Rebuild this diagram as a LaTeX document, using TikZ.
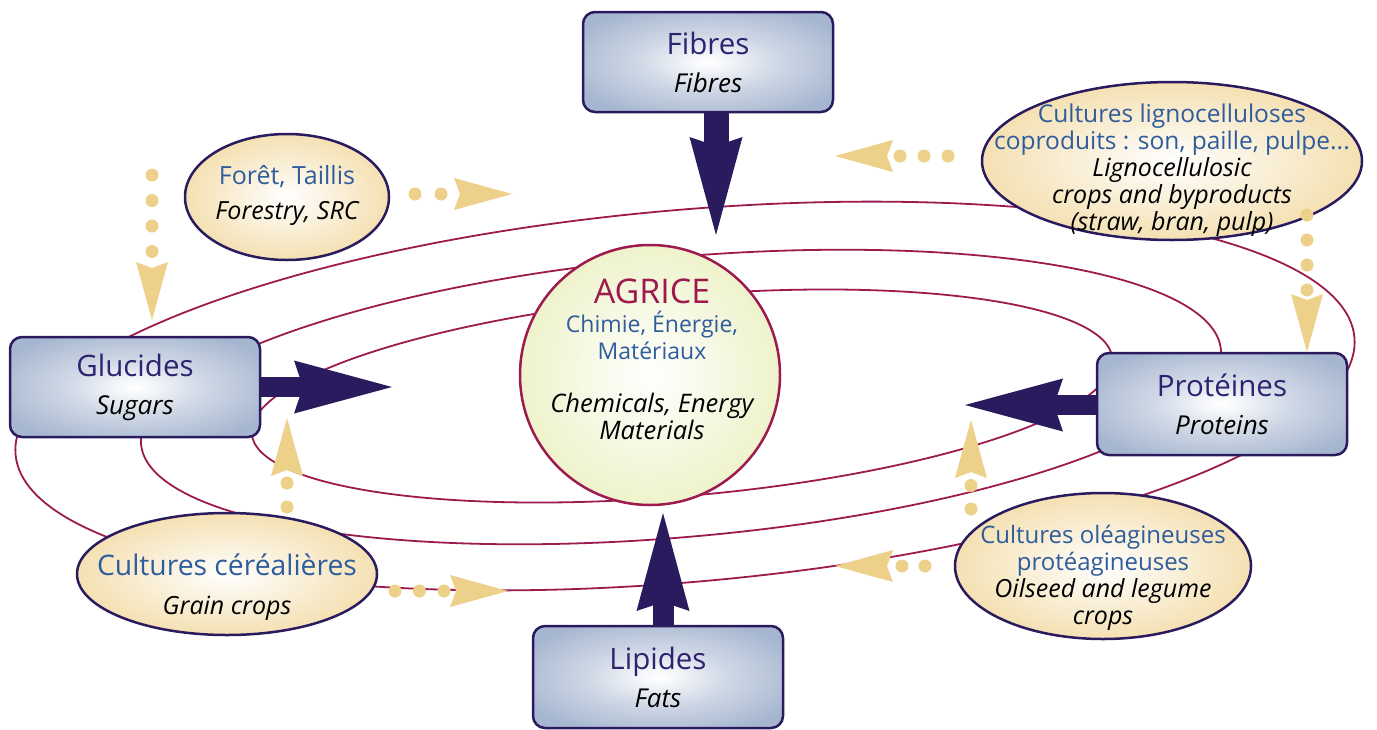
\documentclass[tikz,border=0pt]{standalone}
\usepackage{fontspec}
\setmainfont{Open Sans}
\usetikzlibrary{shapes.geometric,arrows.meta}
\definecolor{boxblue}{HTML}{9FB0CC}
\definecolor{navy}{HTML}{2A1A5E}
\definecolor{titlenavy}{HTML}{2E2370}
\definecolor{gold}{HTML}{EDCB7E}
\definecolor{dotgold}{HTML}{EDD08A}
\definecolor{txtblue}{HTML}{2F5C9C}
\definecolor{crimson}{HTML}{9C1A4E}
\definecolor{circgreen}{HTML}{E3EBA8}
\colorlet{boxedge}{boxblue!93!white}
\pgfdeclareradialshading{boxglow}{\pgfpoint{0bp}{0bp}}{color(0bp)=(white);color(4bp)=(white!88!boxblue);color(14bp)=(white!50!boxblue);color(30bp)=(boxedge);color(80bp)=(boxedge)}
\pgfdeclareradialshading{goldglow}{\pgfpoint{0bp}{0bp}}{color(0bp)=(white);color(42bp)=(gold);color(80bp)=(gold)}
\pgfdeclareradialshading{circglow}{\pgfpoint{0bp}{0bp}}{color(0bp)=(white);color(42bp)=(circgreen);color(80bp)=(circgreen)}
\tikzset{
  orbit/.style={draw=crimson, line width=1.8pt},
  box/.style={draw=navy, line width=2.5pt, rounded corners=12pt, minimum width=250pt,
    minimum height=100pt, shading=boxglow, align=center, text=titlenavy, inner sep=0pt,
    font=\fontsize{29.5}{38}\selectfont},
  oval/.style={ellipse, draw=navy, line width=2.5pt, shading=goldglow, inner sep=0pt},
  ovaltext/.style={align=center, text=txtblue, font=\fontsize{24}{27}\selectfont},
  bigarrow/.style={draw=navy, line width=#1, -{Stealth[length=98pt, width=53pt, inset=9pt, line width=0pt]}},
  dotarrow/.style={draw=dotgold, line width=13pt, line cap=round, dash pattern=on 0pt off #1,
    -{Stealth[length=58pt, width=32pt, inset=6pt, line width=0pt]}},
}
\newcommand{\sub}[1]{{\fontsize{26}{38}\selectfont\itshape\color{black}#1}}
\newcommand{\itl}[1]{{\fontsize{25}{27}\selectfont\itshape\color{black}#1}}
\begin{document}
\begin{tikzpicture}[x=1pt,y=-1pt]
\useasboundingbox (0,0) rectangle (1377,729);
% orbits
\draw[orbit, rotate around={5:(685,396)}] (685,396) ellipse [x radius=672, y radius=186];
\draw[orbit, rotate around={5:(681,397)}] (681,397) ellipse [x radius=542, y radius=140];
\draw[orbit, rotate around={5:(682,396)}] (682,396) ellipse [x radius=432, y radius=100];
% named points
\coordinate (fibtip) at (716,235);
\coordinate (glutip) at (392,387);
\coordinate (protip) at (965,405);
\coordinate (liptip) at (663,513);
% big arrows
\coordinate (fibstart) at (716,100);
\coordinate (glustart) at (250,387);
\coordinate (prostart) at (1107,405);
\coordinate (lipstart) at (663,637);
\draw[bigarrow=25pt] (fibstart) -- (fibtip);
\draw[bigarrow=20pt] (glustart) -- (glutip);
\draw[bigarrow=20pt] (prostart) -- (protip);
\draw[bigarrow=21pt] (lipstart) -- (liptip);
% centre
\node[circle, draw=crimson, line width=2.5pt, minimum size=260pt, shading=circglow, inner sep=0pt] (agrice) at (650,375) {};
\node[align=center, font=\fontsize{23}{27}\selectfont] (agricetext) at (652,359)
  {{\fontsize{34}{27}\selectfont\color{crimson}AGRICE}\\[2pt]
   {\color{txtblue}Chimie, Énergie,}\\
   {\color{txtblue}Matériaux}\\[26pt]
   {\fontsize{25.5}{27}\selectfont\itshape Chemicals, Energy}\\
   {\fontsize{25.5}{27}\selectfont\itshape Materials}};
% boxes
\node[box] (fib) at (708,62) {Fibres\\\sub{Fibres}};
\node[box] (glu) at (135,387) {Glucides\\\sub{Sugars}};
\node[box, minimum height=102pt] (pro) at (1222,404) {Protéines\\\sub{Proteins}};
\node[box, minimum height=102pt] (lip) at (658,677) {Lipides\\\sub{Fats}};
% ovals
\node[oval, minimum width=204pt, minimum height=126pt] (foret) at (287,197) {};
\node[ovaltext, font=\fontsize{25}{35}\selectfont] (forettext) at (287,195)
  {Forêt, Taillis\\{\fontsize{25}{35}\selectfont\itshape\color{black}Forestry, SRC}};
\node[oval, minimum width=380pt, minimum height=158pt] (ligno) at (1172,161) {};
\node[ovaltext, font=\fontsize{24.5}{27}\selectfont] (lignotext) at (1172,170)
  {Cultures lignocelluloses\\coproduits : son, paille, pulpe...\\
   \itl{Lignocellulosic}\\\itl{crops and byproducts}\\\itl{(straw, bran, pulp)}};
\node[oval, minimum width=300pt, minimum height=122pt] (cereal) at (227,574) {};
\node[ovaltext, font=\fontsize{28.3}{39}\selectfont] (cerealtext) at (227,587)
  {Cultures céréalières\\{\fontsize{25}{39}\selectfont\itshape\color{black}Grain crops}};
\node[oval, minimum width=296pt, minimum height=146pt] (oleag) at (1103,566) {};
\node[ovaltext] (oleagtext) at (1103,578)
  {Cultures oléagineuses\\protéagineuses\\
   \itl{Oilseed and legume}\\\itl{crops}};
% dotted arrows
\coordinate (d1s) at (152,175);  \coordinate (d1e) at (152,320);
\coordinate (d2s) at (415,194);  \coordinate (d2e) at (512,194);
\coordinate (d3s) at (948,156);  \coordinate (d3e) at (835,156);
\coordinate (d4s) at (1307,215); \coordinate (d4e) at (1307,352);
\coordinate (d5s) at (287,507);  \coordinate (d5e) at (287,418);
\coordinate (d6s) at (395,591);  \coordinate (d6e) at (508,591);
\coordinate (d7s) at (971,509);  \coordinate (d7e) at (971,420);
\coordinate (d8s) at (925,566);  \coordinate (d8e) at (835,566);
\draw[dotarrow=25.5pt] (d1s) -- (d1e);
\draw[dotarrow=26pt] (d2s) -- (d2e);
\draw[dotarrow=24pt] (d3s) -- (d3e);
\draw[dotarrow=25pt] (d4s) -- (d4e);
\draw[dotarrow=24pt] (d5s) -- (d5e);
\draw[dotarrow=24.5pt] (d6s) -- (d6e);
\draw[dotarrow=23.5pt] (d7s) -- (d7e);
\draw[dotarrow=23pt] (d8s) -- (d8e);
\end{tikzpicture}
\end{document}
